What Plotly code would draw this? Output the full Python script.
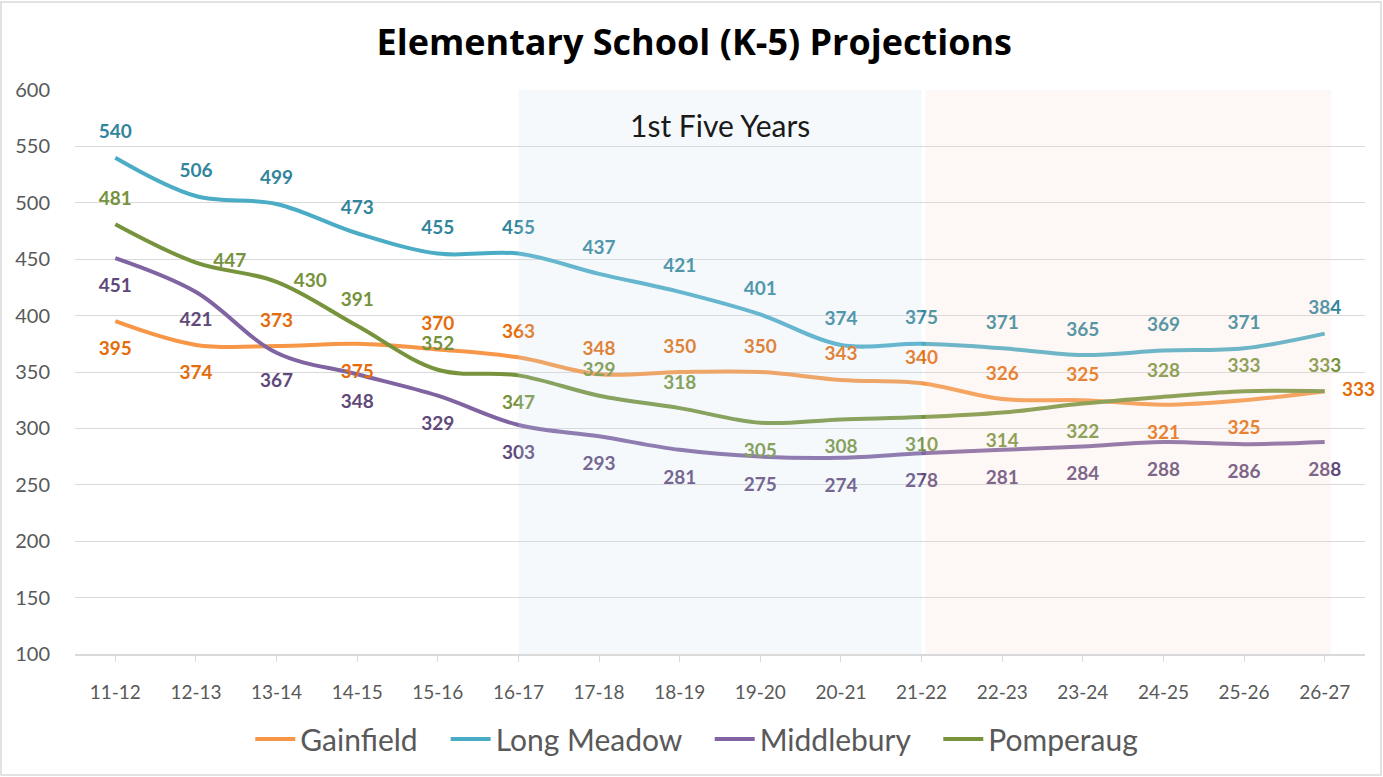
import plotly.graph_objects as go

years = ["11-12", "12-13", "13-14", "14-15", "15-16", "16-17", "17-18", "18-19",
         "19-20", "20-21", "21-22", "22-23", "23-24", "24-25", "25-26", "26-27"]

gainfield = [395, 374, 373, 375, 370, 363, 348, 350, 350, 343, 340, 326, 325, 321, 325, 333]
long_meadow = [540, 506, 499, 473, 455, 455, 437, 421, 401, 374, 375, 371, 365, 369, 371, 384]
middlebury = [451, 421, 367, 348, 329, 303, 293, 281, 275, 274, 278, 281, 284, 288, 286, 288]
pomperaug = [481, 447, 430, 391, 352, 347, 329, 318, 305, 308, 310, 314, 322, 328, 333, 333]

series_names = ["Gainfield", "Long Meadow", "Middlebury", "Pomperaug"]
series_values = [gainfield, long_meadow, middlebury, pomperaug]

# styles
line_colors = ["#F79646", "#4BACC6", "#8064A2", "#77933C"]
label_colors = ["#E46C0A", "#31859C", "#5F497A", "#76923C"]
legend_pad = ["\u00a0\u00a0\u00a0", "\u00a0\u00a0\u00a0", "\u00a0\u00a0\u00a0", ""]

# label placement (T=top, B=bottom, R=right)
label_pos = {
    "Gainfield":   "BBTBTTTTTTTTTBBR",
    "Long Meadow": "TTTTTTTTTTTTTTTT",
    "Middlebury":  "BBBBBBBBBBBBBBBB",
    "Pomperaug":   "TRRTTBTTBBBBBTTT",
}
pos_map = {"T": "top center", "B": "bottom center", "R": "middle right"}
size_map = {"T": 22, "B": 30, "R": 26}

fig = go.Figure()

for name, vals, lc, pad in zip(series_names, series_values, line_colors, legend_pad):
    fig.add_trace(go.Scatter(
        x=years, y=vals, name=name + pad, mode="lines",
        line=dict(color=lc, width=4, shape="spline", smoothing=1),
        hoverinfo="skip",
    ))

for name, vals, tc in zip(series_names, series_values, label_colors):
    codes = label_pos[name]
    fig.add_trace(go.Scatter(
        x=years, y=vals, mode="markers+text", showlegend=False,
        text=[str(v) for v in vals],
        textposition=[pos_map[c] for c in codes],
        marker=dict(size=[size_map[c] for c in codes], opacity=0, color=tc),
        textfont=dict(family="Lato", size=19, color=tc, weight="bold"),
        hoverinfo="skip", cliponaxis=False,
    ))

# shaded periods (drawn above data, semi-transparent)
fig.add_shape(type="rect", xref="x", yref="y", x0=5, x1=10, y0=100, y1=600,
              fillcolor="rgba(205,225,240,0.2)", line_width=0, layer="above")
fig.add_shape(type="rect", xref="x", yref="y", x0=10.05, x1=15.08, y0=100, y1=600,
              fillcolor="rgba(245,220,205,0.2)", line_width=0, layer="above")

# outer border
fig.add_shape(type="rect", xref="paper", yref="paper",
              x0=(1 - 75) / 1290, x1=(1381 - 75) / 1290,
              y0=(654 - 775) / 564, y1=(654 - 2) / 564,
              line=dict(color="#D9D9D9", width=1.5), fillcolor="rgba(0,0,0,0)", layer="below")

fig.add_annotation(x=7.5, y=(654 - 125) / 564, xref="x", yref="paper",
                   xanchor="center", yanchor="middle",
                   text="1st Five Years", showarrow=False,
                   font=dict(family="Lato", size=30, color="#1a1a1a"))

fig.update_layout(
    width=1383, height=777,
    margin=dict(l=75, r=18, t=90, b=123),
    paper_bgcolor="white", plot_bgcolor="white",
    title=dict(text="<b>Elementary School (K-5) Projections</b>",
               x=0.502, xref="container", xanchor="center",
               y=1 - 42 / 777, yref="container", yanchor="middle",
               font=dict(family="Open Sans", size=36, color="#000000")),
    showlegend=True,
    legend=dict(orientation="h", x=0.482, xanchor="center",
                y=(654 - 739) / 564, yanchor="middle",
                font=dict(family="Lato", size=30, color="#595959"),
                itemwidth=40, tracegroupgap=0),
    font=dict(family="Lato", color="#595959"),
)

fig.update_xaxes(
    type="category", range=[-0.5, 15.5],
    showgrid=False, showline=True, linecolor="#D9D9D9", linewidth=1.5,
    ticks="outside", ticklen=6, tickcolor="#D9D9D9",
    ticklabelstandoff=14,
    tickfont=dict(family="Lato", size=19, color="#595959"),
)
fig.update_yaxes(
    range=[100, 600], tickvals=list(range(100, 601, 50)),
    showgrid=True, gridcolor="#D9D9D9", gridwidth=1.2,
    zeroline=False, showline=False,
    ticks="outside", ticklen=20, tickcolor="rgba(0,0,0,0)",
    tickfont=dict(family="Lato", size=20, color="#595959"),
)

fig.write_html("out.html", config={"displayModeBar": False},
               post_script="document.body.style.margin='0';document.body.style.overflow='hidden';")
